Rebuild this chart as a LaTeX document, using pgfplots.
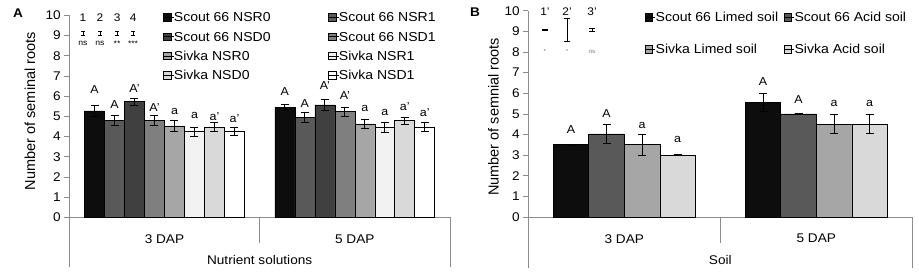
\documentclass[border=0pt]{standalone}
\usepackage{pgfplots}
\pgfplotsset{compat=1.18}
\usepackage{fontspec}
\setmainfont{Liberation Sans}[FakeStretch=1.08]
\newfontfamily\plainfont{Liberation Sans}
\definecolor{axgray}{HTML}{8C8C8C}
\definecolor{c1}{HTML}{0D0D0D}
\definecolor{c2}{HTML}{595959}
\definecolor{c3}{HTML}{404040}
\definecolor{c4}{HTML}{7F7F7F}
\definecolor{c5}{HTML}{A6A6A6}
\definecolor{c6}{HTML}{F2F2F2}
\definecolor{c7}{HTML}{D9D9D9}
\definecolor{c8}{HTML}{FFFFFF}
\newcommand{\fs}[1]{\fontsize{#1}{#1}\selectfont}
\tikzset{lbl/.style={anchor=center, inner sep=0pt, font=\fs{11.5}}}
\pgfplotsset{
  sq legend/.style={legend image code/.code={\draw[##1, line width=0.6pt] (0pt,-3.6pt) rectangle (7.3pt,3.6pt); \path (0pt,0pt) -- (10pt,0pt);}},
  panel/.style={
    scale only axis,
    axis x line*=bottom, axis y line*=left,
    axis line style={draw=axgray, line width=0.6pt},
    xmin=-0.5, xmax=1.5, ymin=0, ymax=10,
    ytick={0,1,...,10},
    xtick={0,1}, xticklabels={3 DAP, 5 DAP},
    major x tick style={draw=none},
    ytick style={draw=axgray, line width=0.6pt},
    tick align=outside, major tick length=5pt,
    /pgf/number format/assume math mode=true,
    tick label style={font=\fs{12.6}},
    xticklabel style={anchor=center, yshift=-16.7pt},
    clip=false,
    xlabel style={at={(axis description cs:0.5,0)}, anchor=center, yshift=-43pt, font=\fs{12.6}},
    ylabel style={anchor=center, font=\fontsize{14.5}{14.5}\plainfont},
    legend cell align=left,
    legend style={draw=none, fill=none, font=\fs{13}, column sep=0pt, inner sep=0pt, outer sep=0pt,
      nodes={inner sep=0pt, outer sep=0pt, text height=9.3pt, text depth=0pt}},
  },
  errs/.style={error bars/y dir=both, error bars/y explicit,
    error bars/error bar style={black, draw opacity=1, solid, line width=0.8pt},
    error bars/error mark options={rotate=90, black, draw opacity=1, mark size=#1, line width=0.8pt}},
  br/.style={ybar, bar width=#1, bar shift=0pt, draw=black, line width=0.6pt, sq legend, errs=4pt},
  inset/.style={mark=none, forget plot, draw opacity=0, errs=#1},
}
\begin{document}
\begin{tikzpicture}
\path[use as bounding box] (0,0) rectangle (919pt,274pt);
\node[font=\bfseries\fs{12.6}] at (18pt,261pt) {A};
\node[font=\bfseries\fs{12.6}] at (475pt,262pt) {B};
% ---------------- Panel A ----------------
\begin{axis}[panel, at={(69.3pt,56.7pt)}, anchor=south west, width=380.7pt, height=202pt,
  xlabel={Nutrient solutions},
  ylabel={Number of seminal roots},
  ylabel style={at={(axis description cs:-0.1032,0.526)}},
  legend columns=2,
  legend style={at={(axis description cs:0.2469,1.0131)}, anchor=north west, row sep=10pt},
]
\addplot[br={0.105}, fill=c1] table[x=x,y=y,y error=e] {
x y e
-0.3675 5.27 0.28
0.6325 5.43 0.15
};
\addlegendentry{\makebox[154.4pt][l]{Scout 66 NSR0}}
\addplot[br={0.105}, fill=c2] table[x=x,y=y,y error=e] {
x y e
-0.2625 4.78 0.25
0.7375 4.95 0.24
};
\addlegendentry{Scout 66 NSR1}
\addplot[br={0.105}, fill=c3] table[x=x,y=y,y error=e] {
x y e
-0.1575 5.72 0.18
0.8425 5.56 0.29
};
\addlegendentry{\makebox[154.4pt][l]{Scout 66 NSD0}}
\addplot[br={0.105}, fill=c4] table[x=x,y=y,y error=e] {
x y e
-0.0525 4.78 0.24
0.9475 5.23 0.23
};
\addlegendentry{Scout 66 NSD1}
\addplot[br={0.105}, fill=c5] table[x=x,y=y,y error=e] {
x y e
0.0525 4.52 0.26
1.0525 4.62 0.22
};
\addlegendentry{\makebox[154.4pt][l]{Sivka NSR0}}
\addplot[br={0.105}, fill=c6] table[x=x,y=y,y error=e] {
x y e
0.1575 4.24 0.22
1.1575 4.46 0.25
};
\addlegendentry{Sivka NSR1}
\addplot[br={0.105}, fill=c7] table[x=x,y=y,y error=e] {
x y e
0.2625 4.46 0.22
1.2625 4.78 0.18
};
\addlegendentry{\makebox[154.4pt][l]{Sivka NSD0}}
\addplot[br={0.105}, fill=c8] table[x=x,y=y,y error=e] {
x y e
0.3675 4.24 0.20
1.3675 4.46 0.23
};
\addlegendentry{Sivka NSD1}
% inset error bars
\addplot[inset=1.8pt] table[x=x,y=y,y error=e] {
x y e
-0.428 9.12 0.1
-0.339 9.12 0.1
-0.249 9.12 0.1
-0.165 9.12 0.1
};
\node[font=\fs{11}, anchor=center] at (axis cs:-0.428,9.87) {1};
\node[font=\fs{11}, anchor=center] at (axis cs:-0.339,9.87) {2};
\node[font=\fs{11}, anchor=center] at (axis cs:-0.249,9.87) {3};
\node[font=\fs{11}, anchor=center] at (axis cs:-0.165,9.87) {4};
\node[font=\fs{8}, anchor=base] at (axis cs:-0.428,8.5) {ns};
\node[font=\fs{8}, anchor=base] at (axis cs:-0.339,8.5) {ns};
\node[font=\fs{8}, anchor=base] at (axis cs:-0.249,8.45) {**};
\node[font=\fs{8}, anchor=base] at (axis cs:-0.165,8.45) {***};
% letters
\node[lbl] at (axis cs:-0.3675,6.30) {A};
\node[lbl] at (axis cs:-0.2625,5.56) {A};
\node[lbl] at (axis cs:-0.1575,6.39) {A'};
\node[lbl] at (axis cs:-0.0525,5.45) {A'};
\node[lbl] at (axis cs:0.0525,5.23) {a};
\node[lbl] at (axis cs:0.1575,5.03) {a};
\node[lbl] at (axis cs:0.2625,4.98) {a'};
\node[lbl] at (axis cs:0.3675,4.90) {a'};
\node[lbl] at (axis cs:0.6325,6.22) {A};
\node[lbl] at (axis cs:0.7375,5.64) {A};
\node[lbl] at (axis cs:0.8425,6.50) {A'};
\node[lbl] at (axis cs:0.9475,6.02) {A'};
\node[lbl] at (axis cs:1.0525,5.40) {a};
\node[lbl] at (axis cs:1.1575,5.18) {a};
\node[lbl] at (axis cs:1.2625,5.48) {a'};
\node[lbl] at (axis cs:1.3675,5.18) {a'};
% category table lines
\draw[axgray, line width=0.6pt] (axis cs:-0.5,0) -- ++(0pt,-50pt);
\draw[axgray, line width=0.6pt] (axis cs:0.5,0) -- ++(0pt,-26pt);
\draw[axgray, line width=0.6pt] (axis cs:1.5,0) -- ++(0pt,-50pt);
\end{axis}
% ---------------- Panel B ----------------
\begin{axis}[panel, at={(528.3pt,57pt)}, anchor=south west, width=384pt, height=206.3pt,
  xlabel={Soil},
  ylabel={Number of semnial roots},
  ylabel style={at={(axis description cs:-0.0911,0.485)}},
  legend columns=2,
  legend style={at={(axis description cs:0.304,0.9906)}, anchor=north west, row sep=22.7pt},
]
\addplot[br={0.185}, fill=c1] table[x=x,y=y,y error=e] {
x y e
-0.2775 3.50 0.02
0.7225 5.55 0.43
};
\addlegendentry{\makebox[128.3pt][l]{Scout 66 Limed soil}}
\addplot[br={0.185}, fill=c2] table[x=x,y=y,y error=e] {
x y e
-0.0925 4.03 0.47
0.9075 5.00 0.02
};
\addlegendentry{Scout 66 Acid soil}
\addplot[br={0.185}, fill=c5] table[x=x,y=y,y error=e] {
x y e
0.0925 3.50 0.52
1.0925 4.50 0.46
};
\addlegendentry{\makebox[128.3pt][l]{Sivka Limed soil}}
\addplot[br={0.185}, fill=c7] table[x=x,y=y,y error=e] {
x y e
0.2775 3.00 0.02
1.2775 4.50 0.46
};
\addlegendentry{Sivka Acid soil}
% inset
\addplot[inset=3.2pt] table[x=x,y=y,y error=e] {
x y e
-0.413 9.08 0.03
-0.298 9.07 0.58
-0.168 9.08 0.07
};
\node[font=\fs{11}, anchor=center] at (axis cs:-0.413,9.95) {1'};
\node[font=\fs{11}, anchor=center] at (axis cs:-0.298,9.95) {2'};
\node[font=\fs{11}, anchor=center] at (axis cs:-0.168,9.95) {3'};
\node[font=\fs{6}, text=gray, anchor=center] at (axis cs:-0.413,8.02) {*};
\node[font=\fs{6}, text=gray, anchor=center] at (axis cs:-0.298,8.02) {*};
\node[font=\fs{6}, text=gray, anchor=center] at (axis cs:-0.168,8.02) {ns};
% letters
\node[lbl] at (axis cs:-0.2775,4.26) {A};
\node[lbl] at (axis cs:-0.0925,5.03) {A};
\node[lbl] at (axis cs:0.0925,4.42) {a};
\node[lbl] at (axis cs:0.2775,3.74) {a};
\node[lbl] at (axis cs:0.7225,6.57) {A};
\node[lbl] at (axis cs:0.9075,5.68) {A};
\node[lbl] at (axis cs:1.0925,5.52) {a};
\node[lbl] at (axis cs:1.2775,5.52) {a};
\draw[axgray, line width=0.6pt] (axis cs:-0.5,0) -- ++(0pt,-51pt);
\draw[axgray, line width=0.6pt] (axis cs:0.5,0) -- ++(0pt,-26pt);
\draw[axgray, line width=0.6pt] (axis cs:1.5,0) -- ++(0pt,-51pt);
\end{axis}
\end{tikzpicture}
\end{document}
